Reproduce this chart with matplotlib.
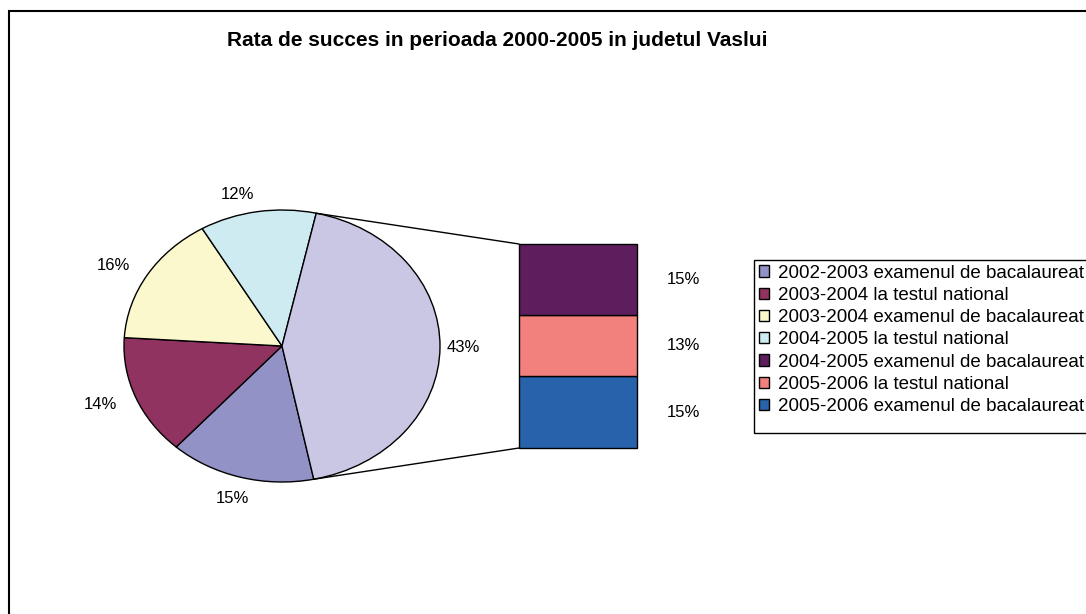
import matplotlib
matplotlib.use('Agg')
import matplotlib.pyplot as plt
import matplotlib.transforms as mtransforms
from matplotlib.patches import ConnectionPatch, Rectangle
import numpy as np

plt.rcParams['font.family'] = ['Liberation Sans', 'DejaVu Sans']

# date
title = 'Rata de succes in perioada 2000-2005 in judetul Vaslui'

pie_labels = ['2002-2003 examenul de bacalaureat',
              '2003-2004 la testul national',
              '2003-2004 examenul de bacalaureat',
              '2004-2005 la testul national']
pie_values = [14.9, 14.3, 15.6, 11.9]
pie_colors = ['#9292C6', '#913360', '#FAF8CC', '#CDEBF0']
other_color = '#C9C7E3'

# bara (de sus in jos)
bar_labels = ['2004-2005 examenul de bacalaureat',
              '2005-2006 la testul national',
              '2005-2006 examenul de bacalaureat']
bar_values = [15.0, 13.1, 15.2]
bar_colors = ['#5E1E5E', '#F2807C', '#2862AA']

W, H = 1086, 614
fig = plt.figure(figsize=(W / 100, H / 100), dpi=100)


def px_axes(x0, y0, x1, y1):
    return fig.add_axes([x0 / W, 1 - y1 / H, (x1 - x0) / W, (y1 - y0) / H])


def px_box(x0, y0, x1, y1, lw):
    fig.add_artist(Rectangle((x0 / W, 1 - y1 / H), (x1 - x0) / W, (y1 - y0) / H,
                             transform=fig.transFigure, fill=False,
                             edgecolor='black', linewidth=lw))


other = sum(bar_values)
total = sum(pie_values) + other
pct = lambda v: f'{v / total * 100:.0f}%'

# pie (eliptic, ca in Excel)
ax_pie = px_axes(124, 210, 440, 482)
wedges, texts = ax_pie.pie(pie_values + [other],
                           colors=pie_colors + [other_color],
                           labels=[pct(v) for v in pie_values + [other]],
                           startangle=-78.4, counterclock=False,
                           labeldistance=1.13,
                           wedgeprops=dict(edgecolor='black', linewidth=1),
                           textprops=dict(fontsize=12))
ax_pie.set_aspect('auto')
ax_pie.set_xlim(-1, 1)
ax_pie.set_ylim(-1, 1)

# eticheta felia mare mai aproape de margine
w = wedges[-1]
mid = np.radians((w.theta1 + w.theta2) / 2)
texts[-1].set_position((1.04 * np.cos(mid), 1.04 * np.sin(mid)))
# eticheta 15% putin mai jos / la dreapta
w0 = wedges[0]
mid0 = np.radians((w0.theta1 + w0.theta2) / 2)
texts[0].set_position((1.18 * np.cos(mid0) + 0.1, 1.16 * np.sin(mid0)))

# bara stivuita
ax_bar = px_axes(519, 244, 637, 448)
trans = mtransforms.blended_transform_factory(ax_bar.transAxes, ax_bar.transData)
bar_patches = []
bottom = 0
for v, c in zip(bar_values[::-1], bar_colors[::-1]):
    b = ax_bar.bar(0, v, bottom=bottom, width=1, color=c, edgecolor='black',
                   linewidth=1, clip_on=False)
    bar_patches.append(b[0])
    ax_bar.text(1.25, bottom + v / 2, pct(v), transform=trans,
                ha='left', va='center', fontsize=12)
    bottom += v
bar_patches = bar_patches[::-1]
ax_bar.set_xlim(-0.5, 0.5)
ax_bar.set_ylim(0, other)
ax_bar.axis('off')

# liniile de legatura
pts = []
for ang in (w.theta1, w.theta2):
    pts.append((np.cos(np.radians(ang)), np.sin(np.radians(ang))))
pts.sort(key=lambda p: p[1])
for (xa, ya), yb in zip(pts, (0, other)):
    con = ConnectionPatch(xyA=(xa, ya), coordsA=ax_pie.transData,
                          xyB=(-0.5, yb), coordsB=ax_bar.transData,
                          color='black', lw=1)
    fig.add_artist(con)

# legenda (chenarul separat, are mai mult spatiu jos)
leg = fig.legend(list(wedges[:4]) + bar_patches, pie_labels + bar_labels,
                 loc='upper left', bbox_to_anchor=(754 / W, 1 - 260 / H),
                 frameon=False,
                 fontsize=13.5, handlelength=0.55, handleheight=0.55,
                 handletextpad=0.5, labelspacing=0.28, borderpad=0.25,
                 borderaxespad=0)
px_box(754, 260, 1095, 433, 1)

# titlu si chenar
fig.text(497 / W, 1 - 40 / H, title, ha='center', va='center',
         fontsize=15, fontweight='bold')
px_box(9, 11, 1140, 680, 1.5)

fig.savefig('out.png', dpi=100)
